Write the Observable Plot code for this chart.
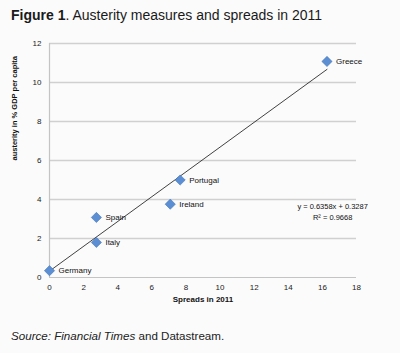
<!DOCTYPE html>
<html>
<head>
<meta charset="utf-8">
<script src="https://cdn.jsdelivr.net/npm/d3@7"></script>
<script src="https://cdn.jsdelivr.net/npm/@observablehq/plot@0.6"></script>
<style>
  html, body { margin: 0; padding: 0; background: #fbfbfb; width: 400px; height: 353px; overflow: hidden; }
  #title { font-family: "Liberation Sans", Arial, sans-serif; font-size: 14px; color: #1a1a1a; padding-left: 11px; height: 30px; line-height: 30px; }
  #chart { height: 290px; }
  #caption { font-family: "Liberation Sans", Arial, sans-serif; font-size: 11.6px; color: #222; padding-left: 11px; margin-top: 9px; }
</style>
</head>
<body>
<div id="title"><b>Figure 1</b>. Austerity measures and spreads in 2011</div>
<div id="chart"></div>
<div id="caption"><i>Source: Financial Times</i> and Datastream.</div>
<script>
const countries = ["Germany", "Italy", "Spain", "Ireland", "Portugal", "Greece"];
const spreads   = [0.0, 2.75, 2.75, 7.08, 7.66, 16.27];
const austerity = [0.35, 1.8, 3.08, 3.76, 5.0, 11.08];
const xTicks = [0, 2, 4, 6, 8, 10, 12, 14, 16, 18];
const yTicks = [0, 2, 4, 6, 8, 10, 12];
const slope = 0.6358, intercept = 0.3287, r2 = 0.9668;
const trendX = [0, 16.27];
const eqLabels = [
  {x: 16.6, y: 3.62, text: "y = 0.6358x + 0.3287"},
  {x: 16.6, y: 3.05, text: "R² = 0.9668"}
];
const xTitle = "Spreads in 2011";
const yTitle = "austerity in % GDP per capita";

const points = countries.map((c, i) => ({country: c, x: spreads[i], y: austerity[i]}));
const trend = trendX.map(x => ({x, y: slope * x + intercept}));

const font = "Liberation Sans, Arial, sans-serif";
const chart = Plot.plot({
  width: 400,
  height: 290,
  marginLeft: 49,
  marginRight: 44,
  marginTop: 13,
  marginBottom: 43,
  style: {background: "transparent", fontFamily: font, fontSize: "8px", color: "#222"},
  x: {domain: [0, 18], ticks: xTicks},
  y: {domain: [0, 12], ticks: yTicks},
  marks: [
    Plot.ruleY(yTicks.filter(d => d > 0), {stroke: "#d0d0d0", strokeWidth: 1.5}),
    Plot.ruleY([0], {stroke: "#c4c4c4", strokeWidth: 1.2}),
    Plot.ruleX([0], {stroke: "#c4c4c4", strokeWidth: 1.2}),
    Plot.axisX({ticks: xTicks, tickSize: 0, tickPadding: 7, label: null, fontSize: 8, fill: "#222"}),
    Plot.axisY({ticks: yTicks, tickSize: 0, tickPadding: 8, label: null, fontSize: 8, fill: "#222"}),
    Plot.line(trend, {x: "x", y: "y", stroke: "#111", strokeWidth: 0.8}),
    Plot.dot(points, {x: "x", y: "y", symbol: "diamond2", r: 4.6, fill: "#5b8ed2", stroke: "#4577b8", strokeWidth: 0.6}),
    Plot.text(points, {x: "x", y: "y", text: "country", dx: 9, textAnchor: "start", fontSize: 8, fill: "#111"}),
    Plot.text(eqLabels, {x: "x", y: "y", text: "text", fontSize: 7.5, fill: "#111"}),
    Plot.text([xTitle], {frameAnchor: "bottom", dy: 24, fontWeight: "bold", fontSize: 8, fill: "#111"}),
    Plot.text([yTitle], {frameAnchor: "left", dx: -35, rotate: -90, fontWeight: "bold", fontSize: 7.5, fill: "#111"})
  ]
});
document.getElementById("chart").appendChild(chart);
</script>
</body>
</html>
